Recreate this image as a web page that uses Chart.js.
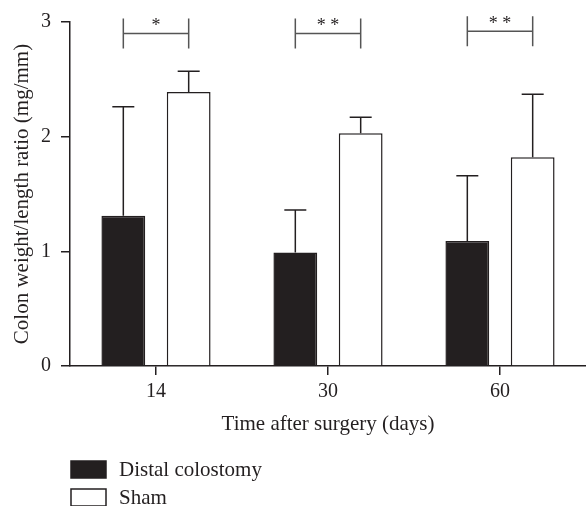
<!DOCTYPE html>
<html>
<head>
<meta charset="utf-8">
<style>
  html, body { margin: 0; padding: 0; background: #fff; }
  #wrap { width: 586px; height: 506px; }
</style>
<script src="https://cdn.jsdelivr.net/npm/chart.js@4.4.1/dist/chart.umd.min.js"></script>
</head>
<body>
<div id="wrap"><canvas id="colonChart" width="586" height="506"></canvas></div>
<script>
// data
const days = ['14', '30', '60'];
const distalMean = [1.31, 0.99, 1.09];
const distalSD = [0.95, 0.37, 0.57];
const shamMean = [2.39, 2.03, 1.82];
const shamSD = [0.18, 0.14, 0.55];
const sigMarks = ['*', '* *', '* *'];
const sigLevel = [2.9, 2.9, 2.92];
const yTicks = [0, 1, 2, 3];

const ink = '#231f20';
const serif = "'Liberation Serif', 'Times New Roman', serif";

// upper error bar + cap on each bar
const errorBars = {
  id: 'errorBars',
  afterDatasetsDraw(chart) {
    const ctx = chart.ctx;
    const y = chart.scales.y;
    ctx.save();
    ctx.strokeStyle = ink;
    ctx.lineWidth = 1.5;
    chart.data.datasets.forEach((ds, i) => {
      chart.getDatasetMeta(i).data.forEach((bar, j) => {
        const top = y.getPixelForValue(ds.data[j] + ds.sd[j]);
        ctx.beginPath();
        ctx.moveTo(bar.x, bar.y);
        ctx.lineTo(bar.x, top);
        ctx.moveTo(bar.x - 11, top);
        ctx.lineTo(bar.x + 11, top);
        ctx.stroke();
      });
    });
    ctx.restore();
  }
};

// significance brackets above each pair
const sigBrackets = {
  id: 'sigBrackets',
  afterDatasetsDraw(chart) {
    const ctx = chart.ctx;
    const a = chart.getDatasetMeta(0).data;
    const b = chart.getDatasetMeta(1).data;
    ctx.save();
    ctx.strokeStyle = '#555';
    ctx.lineWidth = 1.5;
    ctx.fillStyle = ink;
    ctx.font = '18px ' + serif;
    ctx.textAlign = 'center';
    ctx.textBaseline = 'alphabetic';
    sigMarks.forEach((m, j) => {
      const yy = chart.scales.y.getPixelForValue(sigLevel[j]);
      const x0 = a[j].x, x1 = b[j].x;
      ctx.beginPath();
      ctx.moveTo(x0, yy - 15); ctx.lineTo(x0, yy + 15);
      ctx.moveTo(x0, yy); ctx.lineTo(x1, yy);
      ctx.moveTo(x1, yy - 15); ctx.lineTo(x1, yy + 15);
      ctx.stroke();
      ctx.fillText(m, (x0 + x1) / 2, yy - 2);
    });
    ctx.restore();
  }
};

// stacked legend at the bottom left
const boxLegend = {
  id: 'boxLegend',
  afterDraw(chart) {
    const ctx = chart.ctx;
    ctx.save();
    ctx.font = '21px ' + serif;
    ctx.textBaseline = 'middle';
    ctx.textAlign = 'left';
    chart.data.datasets.forEach((ds, i) => {
      const top = chart.height - 45 + i * 28;
      ctx.fillStyle = ds.backgroundColor;
      ctx.fillRect(71, top, 35, 17);
      ctx.strokeStyle = ink;
      ctx.lineWidth = 1.5;
      ctx.strokeRect(71, top, 35, 17);
      ctx.fillStyle = ink;
      ctx.fillText(ds.label, 119, top + 9);
    });
    ctx.restore();
  }
};

new Chart(document.getElementById('colonChart'), {
  type: 'bar',
  data: {
    labels: days,
    datasets: [{
      label: 'Distal colostomy',
      data: distalMean,
      sd: distalSD,
      backgroundColor: ink,
      borderColor: ink,
      borderWidth: 1.5,
      categoryPercentage: 0.76,
      barPercentage: 0.67
    }, {
      label: 'Sham',
      data: shamMean,
      sd: shamSD,
      backgroundColor: '#ffffff',
      borderColor: ink,
      borderWidth: 1.5,
      categoryPercentage: 0.76,
      barPercentage: 0.67
    }]
  },
  options: {
    responsive: false,
    animation: false,
    layout: { padding: { top: 19, right: 0, bottom: 60, left: 0 } },
    plugins: { legend: { display: false }, tooltip: { enabled: false } },
    scales: {
      x: {
        grid: { drawOnChartArea: false, offset: false, tickLength: 9, color: ink, lineWidth: 1.5 },
        border: { color: ink, width: 1.5 },
        ticks: { color: ink, font: { family: serif, size: 20 }, padding: 5 },
        title: {
          display: true,
          text: 'Time after surgery (days)',
          color: ink,
          font: { family: serif, size: 21 },
          padding: { top: 4, bottom: 9 }
        },
        afterFit(s) { s.height = 80; }
      },
      y: {
        min: 0,
        max: 3,
        afterBuildTicks(s) { s.ticks = yTicks.map(v => ({ value: v })); },
        grid: { drawOnChartArea: false, tickLength: 9, color: ink, lineWidth: 1.5 },
        border: { color: ink, width: 1.5 },
        ticks: { color: ink, font: { family: serif, size: 20 }, padding: 10 },
        title: {
          display: true,
          text: 'Colon weight/length ratio (mg/mm)',
          color: ink,
          font: { family: serif, size: 21 },
          padding: { top: 10, bottom: 0 }
        },
        afterFit(s) { s.width = 70; }
      }
    }
  },
  plugins: [errorBars, sigBrackets, boxLegend]
});
</script>
</body>
</html>
